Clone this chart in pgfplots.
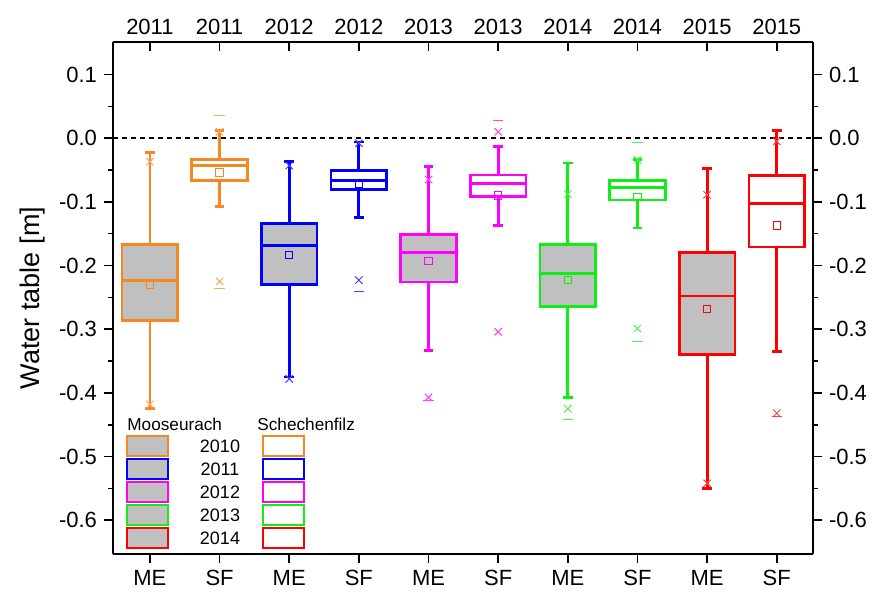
\documentclass[border=0pt]{standalone}
\usepackage{fontspec}
\setmainfont{Liberation Sans}
\usepackage{pgfplots}
\pgfplotsset{compat=1.18}
\usepgfplotslibrary{statistics}

\definecolor{corange}{HTML}{F7881F}
\definecolor{cblue}{HTML}{0000FF}
\definecolor{cmag}{HTML}{FF00FF}
\definecolor{cgreen}{HTML}{11EE11}
\definecolor{cred}{HTML}{FF0000}
\definecolor{boxgray}{HTML}{C0C0C0}

\pgfplotsset{
  wt/.style={
    width=350pt, height=256pt, scale only axis,
    xmin=-0.53, xmax=9.52, ymin=-0.653, ymax=0.151,
    xtick={0,1,2,3,4,5,6,7,8,9},
    ytick={-0.6,-0.5,-0.4,-0.3,-0.2,-0.1,0,0.1},
    axis line style={line width=1pt},
    every tick/.style={black, line width=0.8pt},
    major tick length=4.5pt, minor tick length=2.5pt,
    tick label style={font=\fontsize{11}{13}\selectfont},
  },
  bx/.style={line width=1.4pt},
  mn/.style={only marks, mark=square, mark size=1.8pt, mark options={line width=0.5pt}},
  ox/.style={only marks, mark=x, mark size=2.6pt, mark options={line width=0.5pt}},
  om/.style={only marks, mark=-, mark size=2.6pt, mark options={line width=0.5pt}},
}

\begin{document}
\begin{tikzpicture}
\begin{axis}[wt, name=main,
    axis x line*=bottom, axis y line*=left,
    tick align=outside,
    xticklabels={ME,SF,ME,SF,ME,SF,ME,SF,ME,SF},
    yticklabels={-0.6,-0.5,-0.4,-0.3,-0.2,-0.1,0.0,0.1},
    minor y tick num=1,
    ylabel={Water table [m]},
    ylabel style={font=\fontsize{13.5}{16}\selectfont},
    boxplot/draw direction=y,
]
\addplot[black, line width=0.7pt, dash pattern=on 2.5pt off 2pt] coordinates {(-0.53,0) (9.52,0)};

% 2011
\addplot[bx, draw=corange, fill=boxgray, boxplot prepared={draw position=0,
  lower whisker=-0.425, lower quartile=-0.286, median=-0.223,
  upper quartile=-0.167, upper whisker=-0.023, box extend=0.8, whisker extend=0.14}] coordinates {};
\addplot[bx, draw=corange, fill=white, boxplot prepared={draw position=1,
  lower whisker=-0.107, lower quartile=-0.066, median=-0.043,
  upper quartile=-0.034, upper whisker=0.012, box extend=0.8, whisker extend=0.14}] coordinates {};
% 2012
\addplot[bx, draw=cblue, fill=boxgray, boxplot prepared={draw position=2,
  lower whisker=-0.375, lower quartile=-0.230, median=-0.169,
  upper quartile=-0.134, upper whisker=-0.037, box extend=0.8, whisker extend=0.14}] coordinates {};
\addplot[bx, draw=cblue, fill=white, boxplot prepared={draw position=3,
  lower whisker=-0.124, lower quartile=-0.081, median=-0.067,
  upper quartile=-0.051, upper whisker=-0.006, box extend=0.8, whisker extend=0.14}] coordinates {};
% 2013
\addplot[bx, draw=cmag, fill=boxgray, boxplot prepared={draw position=4,
  lower whisker=-0.333, lower quartile=-0.226, median=-0.179,
  upper quartile=-0.151, upper whisker=-0.045, box extend=0.8, whisker extend=0.14}] coordinates {};
\addplot[bx, draw=cmag, fill=white, boxplot prepared={draw position=5,
  lower whisker=-0.137, lower quartile=-0.092, median=-0.071,
  upper quartile=-0.058, upper whisker=-0.013, box extend=0.8, whisker extend=0.14}] coordinates {};
% 2014
\addplot[bx, draw=cgreen, fill=boxgray, boxplot prepared={draw position=6,
  lower whisker=-0.407, lower quartile=-0.264, median=-0.213,
  upper quartile=-0.167, upper whisker=-0.039, box extend=0.8, whisker extend=0.14}] coordinates {};
\addplot[bx, draw=cgreen, fill=white, boxplot prepared={draw position=7,
  lower whisker=-0.141, lower quartile=-0.097, median=-0.078,
  upper quartile=-0.067, upper whisker=-0.034, box extend=0.8, whisker extend=0.14}] coordinates {};
% 2015
\addplot[bx, draw=cred, fill=boxgray, boxplot prepared={draw position=8,
  lower whisker=-0.550, lower quartile=-0.340, median=-0.248,
  upper quartile=-0.180, upper whisker=-0.048, box extend=0.8, whisker extend=0.14}] coordinates {};
\addplot[bx, draw=cred, fill=white, boxplot prepared={draw position=9,
  lower whisker=-0.335, lower quartile=-0.171, median=-0.103,
  upper quartile=-0.059, upper whisker=0.012, box extend=0.8, whisker extend=0.14}] coordinates {};

% means
\addplot[mn, corange] coordinates {(0,-0.230) (1,-0.054)};
\addplot[mn, cblue] coordinates {(2,-0.184) (3,-0.072)};
\addplot[mn, cmag] coordinates {(4,-0.193) (5,-0.090)};
\addplot[mn, cgreen] coordinates {(6,-0.223) (7,-0.092)};
\addplot[mn, cred] coordinates {(8,-0.268) (9,-0.137)};

% 1% / 99% (x) and min / max (-)
\addplot[ox, corange!75] coordinates {(0,-0.037) (0,-0.418) (1,0.010) (1,-0.225)};
\addplot[om, corange!75] coordinates {(1,0.035) (1,-0.236)};
\addplot[ox, cblue!75] coordinates {(2,-0.043) (2,-0.378) (3,-0.008) (3,-0.223)};
\addplot[om, cblue!75] coordinates {(3,-0.241)};
\addplot[ox, cmag!75] coordinates {(4,-0.065) (4,-0.407) (5,0.010) (5,-0.304)};
\addplot[om, cmag!75] coordinates {(4,-0.412) (5,0.027)};
\addplot[ox, cgreen!75] coordinates {(6,-0.088) (6,-0.425) (7,-0.034) (7,-0.299)};
\addplot[om, cgreen!75] coordinates {(6,-0.442) (7,-0.007) (7,-0.320)};
\addplot[ox, cred!75] coordinates {(8,-0.089) (8,-0.542) (9,-0.005) (9,-0.432)};
\addplot[om, cred!75] coordinates {(9,-0.437)};
\end{axis}

% top axis
\begin{axis}[wt, at={(main.south west)}, anchor=south west,
    axis x line*=top, axis y line=none,
    tick align=inside,
    xticklabels={2011,2011,2012,2012,2013,2013,2014,2014,2015,2015},
]
\end{axis}

% right axis
\begin{axis}[wt, at={(main.south west)}, anchor=south west,
    axis y line*=right, axis x line=none,
    tick align=outside,
    yticklabels={-0.6,-0.5,-0.4,-0.3,-0.2,-0.1,0.0,0.1},
    minor y tick num=1,
]
\end{axis}

% legend, in pixel units of the reference (origin at its top left)
\begin{scope}[shift={(main.south west)}, xshift=-56.5pt, yshift=277pt, x=0.5pt, y=-0.5pt]
  \node[anchor=west, inner sep=0pt, font=\fontsize{8.6}{10}\selectfont] at (127,424) {Mooseurach};
  \node[anchor=west, inner sep=0pt, font=\fontsize{8.6}{10}\selectfont] at (257,424) {Schechenfilz};
  \foreach \c/\yr [count=\i from 0] in {corange/2010,cblue/2011,cmag/2012,cgreen/2013,cred/2014}{
    \draw[line width=1.4pt, draw=\c, fill=boxgray] (127,436+23*\i) rectangle (168,456+23*\i);
    \draw[line width=1.4pt, draw=\c, fill=white] (263,436+23*\i) rectangle (304,456+23*\i);
    \node[inner sep=0pt, font=\fontsize{9}{10}\selectfont] at (220,446+23*\i) {\yr};
  }
  \path (0,0) rectangle (874,595);
\end{scope}
\end{tikzpicture}
\end{document}
